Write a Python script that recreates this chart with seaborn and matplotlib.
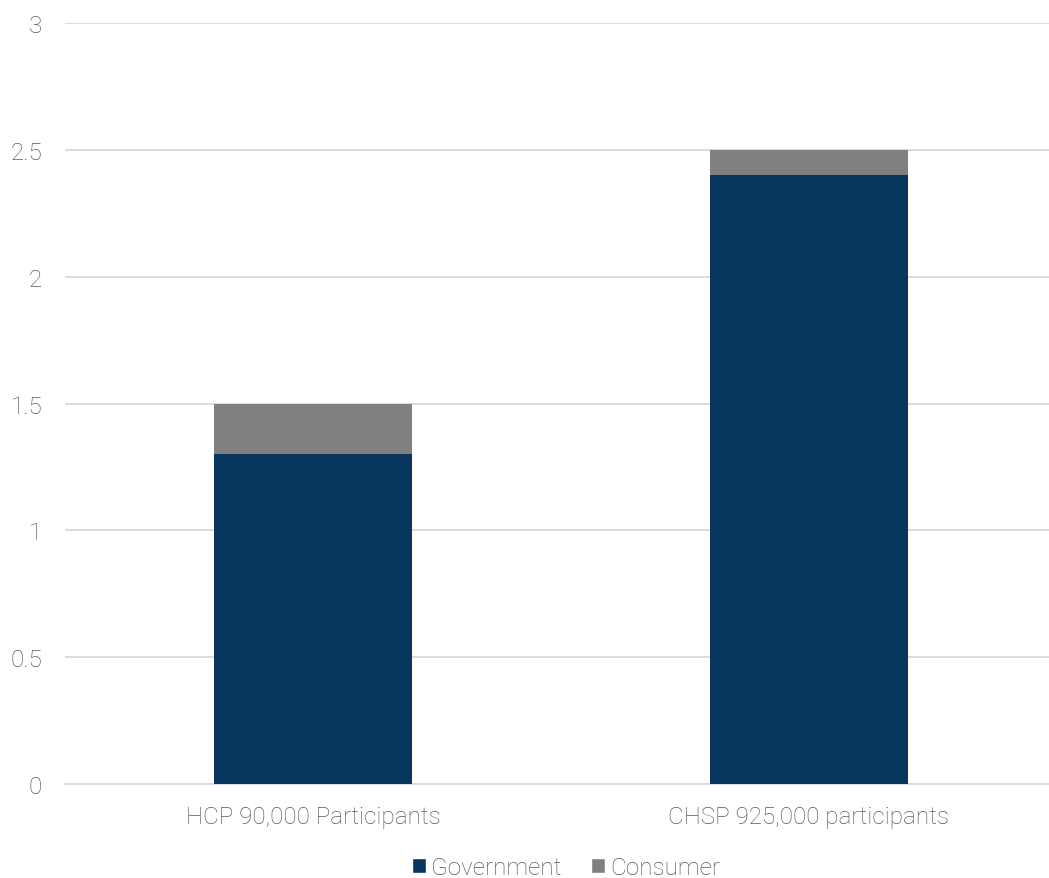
import matplotlib
matplotlib.use("Agg")
import matplotlib.pyplot as plt
import seaborn as sns
import pandas as pd
from matplotlib.patches import Patch

categories = ["HCP 90,000 Participants", "CHSP 925,000 participants"]
government = [1.3, 2.4]
consumer = [0.2, 0.1]
yticks = [0, 0.5, 1, 1.5, 2, 2.5, 3]
ytick_labels = ["0", "0.5", "1", "1.5", "2", "2.5", "3"]

NAVY = "#08365E"
GRAY = "#808080"
TEXT = "#595959"
FS = 17.5

sns.set_theme(style="white")
plt.rcParams["font.family"] = ["Roboto", "DejaVu Sans"]
plt.rcParams["font.weight"] = "light"

df = pd.DataFrame({
    "category": categories,
    "government": government,
    "total": [g + c for g, c in zip(government, consumer)],
})

fig = plt.figure(figsize=(10.49, 8.79), dpi=100)
ax = fig.add_axes([65 / 1049, 1 - 785 / 879, 992 / 1049, (785 - 24) / 879])

sns.barplot(data=df, x="category", y="total", color=GRAY, saturation=1,
            width=0.4, ax=ax, zorder=3, linewidth=0)
sns.barplot(data=df, x="category", y="government", color=NAVY, saturation=1,
            width=0.4, ax=ax, zorder=4, linewidth=0)

ax.set_xlim(-0.5, 1.5)
ax.set_ylim(0, 3)
ax.set_yticks(yticks)
ax.set_yticklabels(ytick_labels)
ax.set_xlabel("")
ax.set_ylabel("")
ax.yaxis.grid(True, color="#D9D9D9", linewidth=1.3, zorder=0)
ax.set_axisbelow(True)
for s in ["top", "right", "left"]:
    ax.spines[s].set_visible(False)
ax.spines["bottom"].set_color("#D9D9D9")
ax.spines["bottom"].set_linewidth(1.3)
ax.tick_params(axis="both", length=0, labelsize=FS, labelcolor=TEXT)
ax.tick_params(axis="y", pad=16.5)
ax.tick_params(axis="x", pad=15)
for t in ax.get_xticklabels() + ax.get_yticklabels():
    t.set_fontweight("light")

handles = [Patch(facecolor=NAVY, label="Government"),
           Patch(facecolor=GRAY, label="Consumer")]
leg = fig.legend(handles=handles, loc="center", bbox_to_anchor=(566 / 1049, 1 - 869 / 879),
                 ncol=2, frameon=False, fontsize=FS, handlelength=0.57, handleheight=0.57,
                 handletextpad=0.22, columnspacing=1.2, labelcolor=TEXT,
                 borderpad=0, borderaxespad=0)
for t in leg.get_texts():
    t.set_fontweight("light")

fig.savefig("out.png", dpi=100)
